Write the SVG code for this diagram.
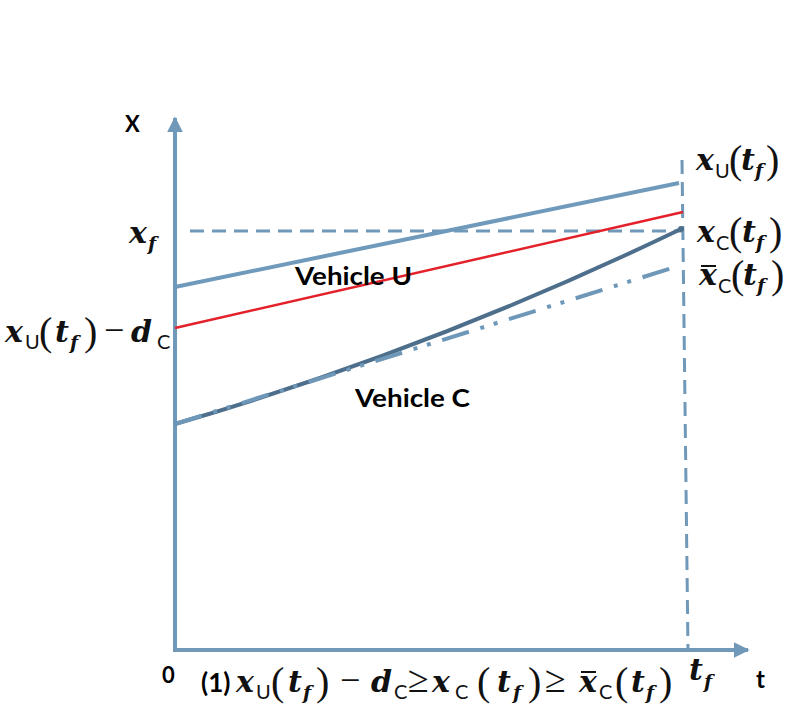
<svg xmlns="http://www.w3.org/2000/svg" width="797" height="720" viewBox="0 0 797 720">
<style>
.ax{stroke:#7098b8;stroke-width:4;fill:none}
.lab{font-family:Lato,"Liberation Sans",Arial,sans-serif;font-weight:bold;fill:#000}
.m{font-family:"DejaVu Serif","Liberation Serif",serif;font-style:italic;font-weight:bold;fill:#111;font-size:30px}
.sf{font-family:"DejaVu Serif","Liberation Serif",serif;font-style:italic;font-weight:bold;fill:#111;font-size:19px}
.p{font-family:"Liberation Serif","DejaVu Serif",serif;fill:#111;font-size:40px}
.o{font-family:"Liberation Serif","DejaVu Serif",serif;fill:#111;font-size:36px}
.g{font-family:"Liberation Serif","DejaVu Serif",serif;fill:#111;font-size:38px}
.s{font-family:Lato,"Liberation Sans",Arial,sans-serif;fill:#111;font-size:20px}
</style>
<defs>
<marker id="ah" viewBox="0 0 10 10" refX="9" refY="5" markerWidth="4" markerHeight="4" orient="auto" markerUnits="strokeWidth">
<path d="M0,0 L10,5 L0,10 z" fill="#7098b8"/>
</marker>
</defs>
<rect width="797" height="720" fill="#fff"/>
<g id="connectors">
<line class="ax" x1="175" y1="650" x2="175" y2="118" marker-end="url(#ah)"/>
<line class="ax" x1="173" y1="650" x2="748" y2="650" marker-end="url(#ah)"/>
<line x1="682" y1="160" x2="688" y2="650" stroke="#7098b8" stroke-width="3" stroke-dasharray="14,8"/>
<line x1="190" y1="231" x2="682" y2="231" stroke="#7098b8" stroke-width="3" stroke-dasharray="14,8"/>
<line x1="175" y1="287" x2="679" y2="183" stroke="#6f9abb" stroke-width="4"/>
<line x1="175" y1="328" x2="683" y2="212" stroke="#e3212b" stroke-width="2.5"/>
<path d="M175,424 Q430,350 681,229" stroke="#4e6f8c" stroke-width="4" fill="none"/>
<line x1="175" y1="424" x2="672" y2="268" stroke="#6f98b8" stroke-width="4" stroke-dasharray="28,12,4,10,4,12"/>
<circle cx="681" cy="229" r="3" fill="#4e6f8c"/>
</g>
<g id="axis-labels">
<text class="lab" x="125" y="132" font-size="22" font-weight="900">X</text>
<text class="lab" x="162" y="683" font-size="22" font-weight="900">0</text>
<text class="lab" x="756" y="688" font-size="24" font-weight="900">t</text>
</g>
<g id="vehicle-u">
<text class="lab" x="295" y="285" font-size="25" textLength="117" lengthAdjust="spacingAndGlyphs">Vehicle U</text>
</g>
<g id="vehicle-c">
<text class="lab" x="355" y="407" font-size="25" textLength="115" lengthAdjust="spacingAndGlyphs">Vehicle C</text>
</g>
<g id="label-xf">
<text class="m" x="129" y="243">x</text>
<text class="sf" x="148" y="250">f</text>
</g>
<g id="label-left">
<text class="m" x="5" y="342">x</text>
<text class="s" x="25" y="349">U</text>
<text class="p" x="39" y="345">(</text>
<text class="m" x="55" y="342">t</text>
<text class="sf" x="70" y="349">f</text>
<text class="p" x="84" y="345">)</text>
<text class="o" x="104" y="342">−</text>
<text class="m" x="131" y="342">d</text>
<text class="s" x="157" y="349">C</text>
</g>
<g id="label-xu">
<text class="m" x="696" y="170">x</text>
<text class="s" x="715" y="178">U</text>
<text class="p" x="729" y="173">(</text>
<text class="m" x="741" y="170">t</text>
<text class="sf" x="755" y="177">f</text>
<text class="p" x="766" y="173">)</text>
</g>
<g id="label-xc">
<text class="m" x="697" y="242">x</text>
<text class="s" x="716" y="250">C</text>
<text class="p" x="729" y="245">(</text>
<text class="m" x="742" y="242">t</text>
<text class="sf" x="756" y="249">f</text>
<text class="p" x="769" y="245">)</text>
</g>
<g id="label-xcbar">
<text class="m" x="699" y="285">x</text>
<text class="s" x="718" y="293">C</text>
<text class="p" x="731" y="288">(</text>
<text class="m" x="743" y="285">t</text>
<text class="sf" x="757" y="292">f</text>
<text class="p" x="771" y="288">)</text>
<line x1="701" y1="266" x2="716" y2="266" stroke="#111" stroke-width="2"/>
</g>
<g id="label-tf">
<text class="m" x="689" y="680">t</text>
<text class="sf" x="704" y="688">f</text>
</g>
<g id="condition">
<text class="lab" x="201" y="692" font-size="26" font-weight="900">(1)</text>
<text class="m" x="236" y="692">x</text>
<text class="s" x="256" y="699">U</text>
<text class="p" x="271" y="695">(</text>
<text class="m" x="288" y="692">t</text>
<text class="sf" x="303" y="699">f</text>
<text class="p" x="316" y="695">)</text>
<text class="o" x="340" y="692">−</text>
<text class="m" x="371" y="692">d</text>
<text class="s" x="394" y="699">C</text>
<text class="g" x="408" y="692">≥</text>
<text class="m" x="432" y="692">x</text>
<text class="s" x="455" y="699">C</text>
<text class="p" x="477" y="695">(</text>
<text class="m" x="497" y="692">t</text>
<text class="sf" x="513" y="699">f</text>
<text class="p" x="528" y="695">)</text>
<text class="g" x="545" y="692">≥</text>
<text class="m" x="579" y="692">x</text>
<line x1="581" y1="672" x2="596" y2="672" stroke="#111" stroke-width="2"/>
<text class="s" x="599" y="699">C</text>
<text class="p" x="615" y="695">(</text>
<text class="m" x="631" y="692">t</text>
<text class="sf" x="646" y="699">f</text>
<text class="p" x="659" y="695">)</text>
</g>
</svg>
